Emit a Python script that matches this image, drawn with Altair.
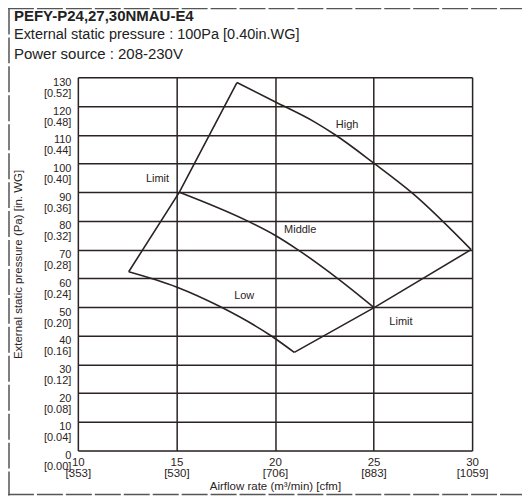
import altair as alt
import pandas as pd

# ---- data ----
high_x = [18.07, 20.0, 22.0, 23.05, 25.0, 27.0, 29.95]
high_y = [128.2, 121.5, 114.5, 110.0, 100.2, 89.5, 70.0]

middle_x = [15.15, 18.6, 20.0, 21.15, 23.17, 25.03]
middle_y = [90.0, 80.0, 75.0, 70.0, 60.0, 49.8]

low_x = [12.58, 15.0, 17.26, 19.8, 20.98]
low_y = [62.3, 57.0, 50.0, 40.0, 34.2]

limit_left_x = [12.58, 15.15, 18.07]
limit_left_y = [62.3, 90.0, 128.2]

limit_right_x = [20.98, 25.03, 29.95]
limit_right_y = [34.2, 49.8, 70.0]

x_ticks = [10, 15, 20, 25, 30]
x_cfm = ["[353]", "[530]", "[706]", "[883]", "[1059]"]

y_ticks = [0, 10, 20, 30, 40, 50, 60, 70, 80, 90, 100, 110, 120, 130]
y_inwg = ["[0.00]", "[0.04]", "[0.08]", "[0.12]", "[0.16]", "[0.20]", "[0.24]",
          "[0.28]", "[0.32]", "[0.36]", "[0.40]", "[0.44]", "[0.48]", "[0.52]"]

label_text = ["High", "Middle", "Low", "Limit", "Limit"]
label_x = [23.66, 21.28, 18.44, 14.04, 26.39]
label_y = [113.3, 76.8, 53.9, 94.5, 44.8]

title_lines = ["PEFY-P24,27,30NMAU-E4",
               "External static pressure : 100Pa [0.40in.WG]",
               "Power source : 208-230V"]

INK = "#2b2323"
FONT = "Liberation Sans"

rows = []
for name, kind, xs, ys in [("High", "curve", high_x, high_y),
                           ("Middle", "curve", middle_x, middle_y),
                           ("Low", "curve", low_x, low_y),
                           ("LimitL", "limit", limit_left_x, limit_left_y),
                           ("LimitR", "limit", limit_right_x, limit_right_y)]:
    for i, (a, b) in enumerate(zip(xs, ys)):
        rows.append({"series": name, "kind": kind, "i": i, "x": a, "y": b})
allpts = pd.DataFrame(rows)

labels = pd.DataFrame({"t": label_text, "x": label_x, "y": label_y})


def cond_expr(ticks, extra):
    expr = "''"
    for t, e in reversed(list(zip(ticks, extra))):
        expr = f"(datum.value == {t} ? '{e}' : {expr})"
    return expr


x_label_expr = f"[datum.label, {cond_expr(x_ticks, x_cfm)}]"
y_label_expr = f"[datum.label, {cond_expr(y_ticks, y_inwg)}]"

xscale = alt.Scale(domain=[10, 30], nice=False, zero=False)
yscale = alt.Scale(domain=[0, 130], nice=False, zero=True)

xaxis = alt.Axis(values=x_ticks, tickCount=5, labelExpr=x_label_expr, grid=True,
                 gridColor=INK, gridWidth=1.5, gridOpacity=1, ticks=False, domain=False,
                 labelFont=FONT, labelFontSize=11.5, labelColor=INK, labelBaseline="top",
                 labelPadding=6, labelLineHeight=11, labelFlush=False, labelOverlap=False,
                 title="Airflow rate (m³/min) [cfm]", titleFont=FONT, titleFontSize=11.5,
                 titleFontWeight="normal", titleColor=INK, titlePadding=1)
yaxis = alt.Axis(values=y_ticks, tickCount=14, labelExpr=y_label_expr, grid=True,
                 gridColor=INK, gridWidth=1.5, gridOpacity=1, ticks=False, domain=False,
                 labelFont=FONT, labelFontSize=11, labelColor=INK, labelBaseline="middle",
                 labelAlign="right", labelPadding=7, labelLineHeight=11, labelOffset=5,
                 labelFlush=False, labelOverlap=False,
                 title="External static pressure (Pa) [in. WG]", titleFont=FONT,
                 titleFontSize=11.5, titleFontWeight="normal", titleColor=INK,
                 titleX=-59, titleY=187, titleAlign="center", titleBaseline="middle",
                 titleAngle=270)

enc_x = alt.X("x:Q", scale=xscale, axis=xaxis)
enc_y = alt.Y("y:Q", scale=yscale, axis=yaxis)

base = alt.Chart(allpts)
curve_layer = base.transform_filter("datum.kind == 'curve'").mark_line(
    color=INK, strokeWidth=1.6, interpolate="monotone").encode(
    x=enc_x, y=enc_y, detail="series:N", order="i:Q")

limit_layer = base.transform_filter("datum.kind == 'limit'").mark_line(
    color=INK, strokeWidth=1.6).encode(
    x=enc_x, y=enc_y, detail="series:N", order="i:Q")

texts = alt.Chart(labels).mark_text(font=FONT, fontSize=11, color=INK).encode(
    x=enc_x, y=enc_y, text="t:N")

title_specs = [(title_lines[0], -61, "bold", 15),
               (title_lines[1], -42, "normal", 14.5),
               (title_lines[2], -23, "normal", 15)]
title_layers = [
    alt.Chart().mark_text(font=FONT, fontSize=fs, fontWeight=w, color="#222222",
                          align="left", baseline="middle", text=t).encode(
        x=alt.value(-64), y=alt.value(yy))
    for t, yy, w, fs in title_specs
]

dash = dict(color="#555555", strokeWidth=1.5, strokeDash=[26, 3])
border_top = alt.Chart().mark_rule(**dash).encode(
    x=alt.value(-70), x2=alt.value(445), y=alt.value(-69))
border_left = alt.Chart().mark_rule(**dash).encode(
    x=alt.value(-69), y=alt.value(-69), y2=alt.value(419))
border_bottom = alt.Chart().mark_rule(**dash).encode(
    x=alt.value(-70), x2=alt.value(445), y=alt.value(418))

chart = alt.layer(curve_layer, limit_layer, texts, *title_layers,
                  border_top, border_left, border_bottom).properties(
    width=395,
    height=374,
    autosize=alt.AutoSizeParams(type="none"),
    padding={"left": 70, "top": 69, "right": 50, "bottom": 47},
).configure_view(stroke=INK, strokeWidth=1.8).configure(background="white")

chart.save("out.html", embed_options={"renderer": "svg", "actions": False})
